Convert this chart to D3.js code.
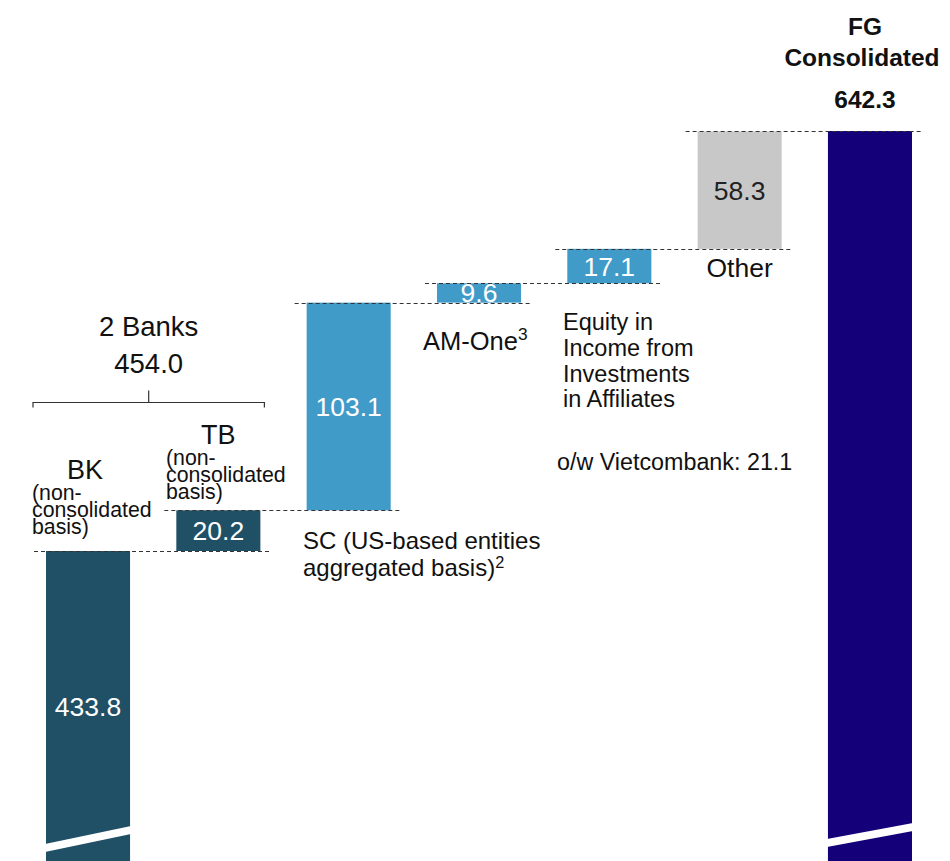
<!DOCTYPE html>
<html>
<head>
<meta charset="utf-8">
<script src="https://cdn.jsdelivr.net/npm/d3@7"></script>
<style>
  html, body { margin: 0; padding: 0; background: #fff; overflow: hidden; }
  svg { display: block; font-family: "Liberation Sans", Arial, Helvetica, sans-serif; }
</style>
</head>
<body>
<svg id="chart" width="950" height="861"></svg>
<script>
// Profit bridge: bank contributions up to the consolidated figure
const categories = ["BK", "TB", "SC", "AM-One", "Equity", "Other", "FG"];
const values = [433.8, 20.2, 103.1, 9.6, 17.1, 58.3, 642.3];
const isTotal = [true, false, false, false, false, false, true];
const groupTitle = ["2 Banks", "454.0"];
const headerLines = ["FG", "Consolidated", "642.3"];

const W = 950, H = 861;
const svg = d3.select("#chart");

const colors = {
  BK: "#1f5066", TB: "#1f5066",
  SC: "#419bc9", "AM-One": "#419bc9", Equity: "#419bc9",
  Other: "#c8c8c8", FG: "#140078"
};

// Waterfall layout: running totals
let running = 0;
const bars = categories.map((c, i) => {
  let lo, hi;
  if (isTotal[i]) { lo = 0; hi = values[i]; }
  else { lo = running; hi = running + values[i]; }
  running = hi;
  return { cat: c, value: values[i], lo, hi, total: isTotal[i] };
});

const x = d3.scaleBand().domain(categories).range([46, 912]).paddingInner(0.355).paddingOuter(0);
const bw = x.bandwidth();
// Broken value axis: the base of the totals runs off the bottom edge
const y = d3.scaleLinear().domain([433.8, 642.3]).range([551, 131]);

svg.append("defs").append("clipPath").attr("id", "plotClip")
  .append("rect").attr("x", 0).attr("y", 0).attr("width", W).attr("height", H);

const g = svg.append("g").attr("clip-path", "url(#plotClip)");

// Bars
g.selectAll("rect.bar").data(bars).join("rect")
  .attr("class", "bar")
  .attr("x", d => x(d.cat))
  .attr("width", bw)
  .attr("y", d => y(d.hi))
  .attr("height", d => y(d.lo) - y(d.hi))
  .attr("fill", d => colors[d.cat]);

// Axis-break stripes on the two total bars
const breaks = [{ cat: "BK", l: 17, r: 35 }, { cat: "FG", l: 22, r: 38 }];
g.selectAll("polygon.brk").data(breaks).join("polygon")
  .attr("class", "brk")
  .attr("fill", "#fff")
  .attr("points", d => {
    const x0 = x(d.cat) - 1, x1 = x(d.cat) + bw + 1;
    return [[x0, H - d.l], [x1, H - d.r], [x1, H - d.r + 8], [x0, H - d.l + 8]].map(p => p.join(",")).join(" ");
  });

// Dashed connectors between consecutive bars
const links = bars.slice(0, -1).map((d, i) => ({ level: d.hi, from: d.cat, to: bars[i + 1].cat }));
svg.selectAll("line.conn").data(links).join("line")
  .attr("class", "conn")
  .attr("x1", d => x(d.from) - 12)
  .attr("x2", d => x(d.to) + bw + 9)
  .attr("y1", d => Math.round(y(d.level)) + 0.5)
  .attr("y2", d => Math.round(y(d.level)) + 0.5)
  .attr("stroke", "#333")
  .attr("stroke-width", 1)
  .attr("stroke-dasharray", "4,3");

// Value labels inside the bars
const valFont = 26.5;
svg.selectAll("text.val").data(bars.filter(d => d.cat !== "FG")).join("text")
  .attr("class", "val")
  .attr("x", d => x(d.cat) + bw / 2)
  .attr("y", d => {
    const top = y(d.hi), bot = Math.min(y(d.lo), H);
    return (top + bot) / 2 + valFont * 0.36;
  })
  .attr("text-anchor", "middle")
  .attr("font-size", valFont)
  .attr("fill", d => d.cat === "Other" ? "#222" : "#fff")
  .text(d => d.value.toFixed(1));

// Helper for multi-line labels
function label(lines, x0, y0, opts) {
  const t = svg.append("text")
    .attr("x", x0).attr("y", y0)
    .attr("font-size", opts.size)
    .attr("font-weight", opts.weight || "normal")
    .attr("text-anchor", opts.anchor || "start")
    .attr("fill", opts.fill || "#111");
  lines.forEach((ln, i) => {
    const ts = t.append("tspan").attr("x", x0).attr("dy", i === 0 ? 0 : opts.lh);
    if (typeof ln === "string") ts.text(ln);
    else {
      ts.text(ln[0]);
      ts.append("tspan").attr("font-size", opts.size * 0.68).attr("dy", -opts.size * 0.36).text(ln[1]);
    }
  });
  return t;
}

const cx = c => x(c) + bw / 2;

// Group bracket over the two banks
const bL = x("BK") - 13, bR = x("TB") + bw + 4, bY = 402.5, bMid = (bL + bR) / 2;
svg.append("path")
  .attr("d", `M${bL},${bY + 5}V${bY}H${bR}V${bY + 5}M${bMid},${bY}V${bY - 12}`)
  .attr("fill", "none").attr("stroke", "#333").attr("stroke-width", 1.2);
label([groupTitle[0]], bMid, 336, { size: 27.5, anchor: "middle" });
label([groupTitle[1]], bMid, 373, { size: 27.5, anchor: "middle" });

// Bank labels
label(["BK"], cx("BK") - 3, 479, { size: 27, anchor: "middle" });
label(["(non-", "consolidated", "basis)"], 32, 500, { size: 21.3, lh: 16.8 });
label(["TB"], cx("TB"), 444, { size: 27, anchor: "middle" });
label(["(non-", "consolidated", "basis)"], 166, 465, { size: 21.3, lh: 16.8 });

// Other contributors
label(["SC (US-based entities", ["aggregated basis)", "2"]], 303, y(454.0) + 39, { size: 24, lh: 27 });
label([["AM-One", "3"]], 423, y(557.1) + 47, { size: 25.5 });
label(["Equity in", "Income from", "Investments", "in Affiliates"], 563, y(566.7) + 47, { size: 23.5, lh: 25.7 });
label(["o/w Vietcombank: 21.1"], 557, 470, { size: 23.3 });
label(["Other"], cx("Other"), 277, { size: 26.5, anchor: "middle" });

// Consolidated header
label([headerLines[0]], 865, 35, { size: 24.5, weight: "bold", anchor: "middle" });
label([headerLines[1]], 862, 66, { size: 24.5, weight: "bold", anchor: "middle" });
label([headerLines[2]], 865, 108, { size: 24.5, weight: "bold", anchor: "middle" });
</script>
</body>
</html>
